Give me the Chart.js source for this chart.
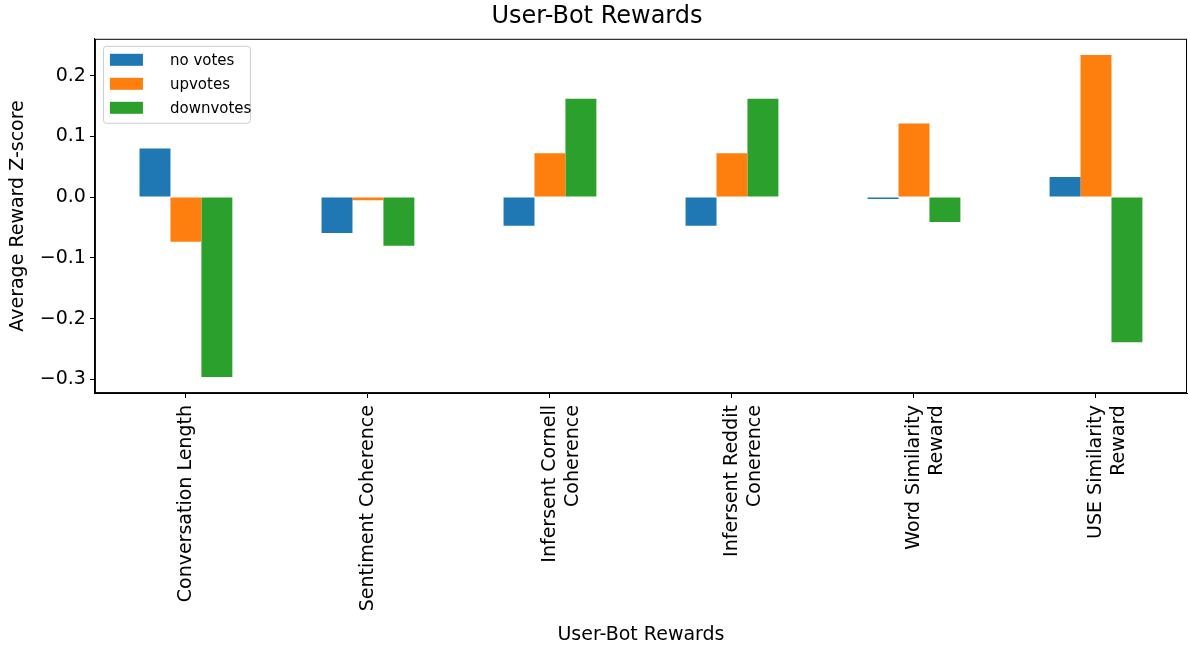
<!DOCTYPE html>
<html>
<head>
<meta charset="utf-8">
<script src="https://cdn.jsdelivr.net/npm/chart.js@4/dist/chart.umd.min.js"></script>
<style>
  html, body { margin: 0; padding: 0; background: #fff; }
  #wrap { width: 1189px; height: 646px; }
</style>
</head>
<body>
<div id="wrap"><canvas id="c"></canvas></div>
<script>
const categories = [
  'Conversation Length',
  'Sentiment Coherence',
  ['Infersent Cornell', 'Coherence'],
  ['Infersent Reddit', 'Conerence'],
  ['Word Similarity', 'Reward'],
  ['USE Similarity', 'Reward']
];
const noVotes   = [0.080, -0.059, -0.047, -0.047, -0.003, 0.033];
const upVotes   = [-0.0735, -0.005, 0.072, 0.072, 0.121, 0.234];
const downVotes = [-0.296, -0.080, 0.162, 0.162, -0.041, -0.239];
const yTicks = [-0.3, -0.2, -0.1, 0.0, 0.1, 0.2];

const FONT = 'DejaVu Sans';

// black frame round the plot, like matplotlib spines
const frame = {
  id: 'frame',
  afterDraw(chart) {
    const a = chart.chartArea, ctx = chart.ctx;
    ctx.save();
    ctx.strokeStyle = '#000';
    ctx.lineWidth = 1;
    ctx.strokeRect(a.left + 0.5, a.top + 0.5, a.right - a.left - 1, a.bottom - a.top - 1);
    ctx.restore();
  }
};

// legend drawn inside the plot, top-left, with a rounded box
const boxLegend = {
  id: 'boxLegend',
  afterDraw(chart) {
    const a = chart.chartArea, ctx = chart.ctx;
    const x0 = a.left + 8, y0 = a.top + 7, w = 147, h = 77;
    ctx.save();
    ctx.fillStyle = 'rgba(255,255,255,0.8)';
    ctx.strokeStyle = '#cccccc';
    ctx.lineWidth = 1;
    ctx.beginPath();
    ctx.roundRect(x0 + 0.5, y0 + 0.5, w, h, 3);
    ctx.fill();
    ctx.stroke();
    ctx.font = '15px "DejaVu Sans"';
    ctx.textBaseline = 'middle';
    chart.data.datasets.forEach((ds, i) => {
      const cy = y0 + 14 + i * 24;
      ctx.fillStyle = ds.backgroundColor;
      ctx.fillRect(x0 + 7, cy - 6, 33, 12);
      ctx.fillStyle = '#000';
      ctx.fillText(ds.label, x0 + 67, cy + 1);
    });
    ctx.restore();
  }
};

new Chart(document.getElementById('c'), {
  type: 'bar',
  data: {
    labels: categories,
    datasets: [
      { label: 'no votes', data: noVotes, backgroundColor: '#1f77b4' },
      { label: 'upvotes', data: upVotes, backgroundColor: '#ff7f0e' },
      { label: 'downvotes', data: downVotes, backgroundColor: '#2ca02c' }
    ]
  },
  options: {
    responsive: true,
    maintainAspectRatio: false,
    animation: false,
    datasets: { bar: { categoryPercentage: 0.51, barPercentage: 1.0 } },
    layout: { padding: { top: 2, right: 2, left: 7, bottom: 0 } },
    plugins: {
      legend: { display: false },
      tooltip: { enabled: false },
      title: {
        display: true,
        text: 'User-Bot Rewards',
        color: '#000',
        font: { family: FONT, size: 24, weight: 'normal' },
        padding: { top: 0, bottom: 8 }
      }
    },
    scales: {
      x: {
        grid: { display: true, offset: false, drawOnChartArea: false, color: '#000', tickLength: 5 },
        border: { display: true, color: '#000' },
        ticks: {
          color: '#000',
          font: { family: FONT, size: 19 },
          maxRotation: 90,
          minRotation: 90,
          autoSkip: false,
          padding: 7
        },
        title: {
          display: true,
          text: 'User-Bot Rewards',
          color: '#000',
          font: { family: FONT, size: 19 },
          padding: { top: 5, bottom: 0 }
        }
      },
      y: {
        min: -0.3225,
        max: 0.2605,
        afterBuildTicks(axis) {
          axis.ticks = yTicks.map(v => ({ value: v }));
        },
        grid: { display: true, drawOnChartArea: false, color: '#000', tickLength: 5 },
        border: { display: true, color: '#000' },
        ticks: {
          color: '#000',
          font: { family: FONT, size: 19 },
          padding: 4,
          callback: v => v.toFixed(1).replace('-', '\u2212')
        },
        title: {
          display: true,
          text: 'Average Reward Z-score',
          color: '#000',
          font: { family: FONT, size: 19 },
          padding: { top: 0, bottom: 6 }
        }
      }
    }
  },
  plugins: [frame, boxLegend]
});
</script>
</body>
</html>
